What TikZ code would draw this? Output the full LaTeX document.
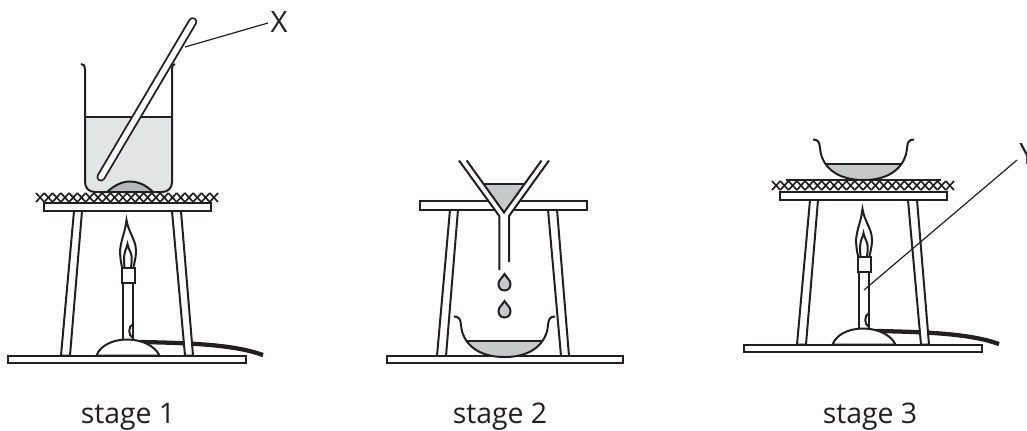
\documentclass[tikz,border=0pt]{standalone}
\usepackage{fontspec}
\setmainfont{Open Sans}
\definecolor{ink}{HTML}{231F20}
\definecolor{waterg}{HTML}{E3E4E6}
\definecolor{liq}{HTML}{C6C8CA}
\definecolor{mound}{HTML}{B5B7BA}
\tikzset{
  ln/.style={draw=ink,line width=1.5pt,line join=miter},
  thin ln/.style={draw=ink,line width=0.9pt},
  lbl/.style={font=\fontsize{21.3pt}{25pt}\selectfont,text=ink,inner sep=0pt,anchor=base},
  big/.style={font=\fontsize{22pt}{26pt}\selectfont,text=ink,inner sep=0pt},
}
\newcommand{\xrow}[3]{% x-start, x-end, y-centre
  \foreach \i in {0,...,21}{
    \pgfmathsetmacro{\xa}{#1+\i*(#2-#1)/22}
    \pgfmathsetmacro{\xb}{#1+(\i+1)*(#2-#1)/22}
    \draw[ink,line width=1.25pt] (\xa,#3-4.5) -- (\xb,#3+4.5) (\xa,#3+4.5) -- (\xb,#3-4.5);
  }}
\newcommand{\stand}{%
  % hose
  \draw[ink,line width=3.2pt] (140,342) .. controls (195,343) and (235,345) .. (263,355);
  % legs
  \filldraw[ln,fill=white] (74,211) -- (61,355.5) -- (70,355.5) -- (82,211);
  \filldraw[ln,fill=white] (172,211) -- (185,355.5) -- (193,355.5) -- (181,211);
  % boards
  \filldraw[ln,fill=white] (44,203) rectangle (211,211);
  \filldraw[ln,fill=white] (8,355.5) rectangle (246,362.8);
  % burner
  \draw[ln] (123,283) -- (123,340) (133,283) -- (133,340);
  \filldraw[ln,fill=white] (121.5,268) rectangle (134.5,283);
  \draw[ln] (133,324) .. controls (128,326) and (128,336) .. (133,338);
  \filldraw[ln,fill=white] (96.5,355.5) .. controls (100,346) and (112,339.5) .. (127,339.5) .. controls (142,339.5) and (155,346) .. (159.5,355.5) -- cycle;
  \draw[ln] (122,267) .. controls (120,258) and (119.5,250) .. (121,244) .. controls (122,238) and (125,232) .. (126.5,220) .. controls (128,230) and (134,238) .. (135.5,246) .. controls (137,253) and (135,260) .. (133.5,267);
  \draw[ln] (124.5,267) .. controls (123.5,260) and (124,254) .. (125.5,250) .. controls (126.5,247) and (127.5,246) .. (127.5,244) .. controls (128,248) and (131,252) .. (131.5,256) .. controls (132,260) and (131.5,264) .. (131,267);
}
\newcommand{\dish}{%
  \fill[liq] (467,341) -- (542,341) .. controls (535,351) and (520,357) .. (504.5,357) .. controls (489,357) and (474,351) .. (467,341) -- cycle;
  \draw[ln] (454,316.5) .. controls (459,316.5) and (460.5,319) .. (461,325) .. controls (461.5,336) and (470,357) .. (504.5,357) .. controls (539,357) and (547.5,336) .. (548,325) .. controls (548.5,319) and (550,316.5) .. (555,316.5);
  \draw[ln] (467,341) -- (542,341);
}
\begin{document}
\begin{tikzpicture}[x=0.75pt,y=-0.75pt]
\useasboundingbox (0,0) rectangle (1027,430);
\clip (0,0) rectangle (1027,430);
\fill[white] (0,0) rectangle (1027,430);

%% ---------- stage 1
\stand
\xrow{36}{218}{197.5}
% beaker
\fill[waterg] (85,117) -- (172,117) -- (172,182) .. controls (172,188) and (168,192) .. (162,192) -- (95,192) .. controls (89,192) and (85,188) .. (85,182) -- cycle;
\fill[mound] (107,192) .. controls (115,185) and (122,181.5) .. (130,181.5) .. controls (138,181.5) and (146,185) .. (153,192) -- cycle;
\draw[ln] (107,192) .. controls (115,185) and (122,181.5) .. (130,181.5) .. controls (138,181.5) and (146,185) .. (153,192);
\draw[ln] (81,64) .. controls (84,64) and (85,66) .. (85,69) -- (85,182) .. controls (85,188) and (89,192) .. (95,192) -- (162,192) .. controls (168,192) and (172,188) .. (172,182) -- (172,69) .. controls (172,66) and (173,64) .. (175,64);
\draw[ln] (85,117) -- (172,117);
% rod
\coordinate (rodA) at (192.7,21.7);
\coordinate (rodB) at (101,177);
\draw[ink,line width=6.8pt,line cap=round] (rodA) -- (rodB);
\draw[white,line width=4pt,line cap=round] (rodA) -- (rodB);
\node[big,anchor=center] (X) at (279,22.5) {X};
\coordinate (xfoot) at (185,47);
\draw[thin ln] (xfoot) -- (268,23);

%% ---------- stage 2
\begin{scope}[shift={(376,-1.5)}]
  \draw[ln,fill=white] (74,211) -- (61,357.5) -- (70,357.5) -- (82,211);
  \draw[ln,fill=white] (172,211) -- (185,357.5) -- (193,357.5) -- (181,211);
  \filldraw[ln,fill=white] (44,202.5) rectangle (211,211);
\end{scope}
\filldraw[ln,fill=white] (387,356) rectangle (622.5,363);
\dish
% funnel
\fill[white] (459,160.5) -- (499.3,216) -- (499.3,225) -- (509,225) -- (509,216) -- (549,160.5) -- cycle;
\fill[liq] (484,183.8) -- (525,183.8) -- (504,212.5) -- cycle;
\draw[ln] (484,183.8) -- (525,183.8);
\draw[ln] (459,160.5) -- (499.3,216) -- (499.3,270);
\draw[ln] (549,160.5) -- (509,216) -- (509,262);
\draw[ln] (466.7,160.5) -- (504,212.5) -- (541.5,160.5);
% drops
\foreach \yy in {274,301}{
  \filldraw[ln,fill=liq] (504.5,\yy) .. controls (506,\yy+3) and (510.5,\yy+6) .. (510.5,\yy+10) .. controls (510.5,\yy+14) and (508,\yy+16.5) .. (504.5,\yy+16.5) .. controls (501,\yy+16.5) and (498.5,\yy+14) .. (498.5,\yy+10) .. controls (498.5,\yy+6) and (503,\yy+3) .. (504.5,\yy) -- cycle;
}

%% ---------- stage 3
\begin{scope}[shift={(736,-11)}]
  \stand
\end{scope}
\xrow{772}{954}{185.5}
\draw[ln] (786,180.3) -- (940.5,180.3);
\begin{scope}[shift={(359,-177)}]
  \dish
\end{scope}
\node[big,anchor=west] (Y) at (1019,154) {Y};
\coordinate (yfoot) at (864,290);
\draw[thin ln] (yfoot) -- (1017,160);

%% ---------- captions
\node[lbl] (s1) at (128,423) {stage 1};
\node[lbl] (s2) at (500,423) {stage 2};
\node[lbl] (s3) at (870,423) {stage 3};
\end{tikzpicture}
\end{document}
